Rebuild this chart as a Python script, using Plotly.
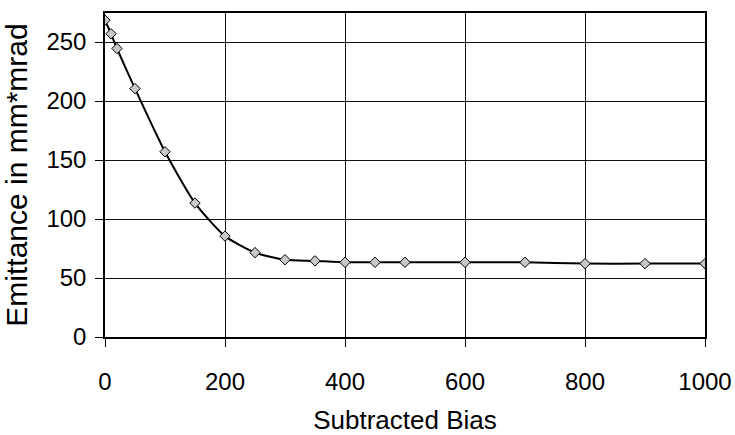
import plotly.graph_objects as go

bias = [0, 10, 20, 50, 100, 150, 200, 250, 300, 350, 400, 450, 500, 600, 700, 800, 900, 1000]
emittance = [268.5, 257, 244.5, 210.5, 157, 113.5, 85.5, 71.5, 65.5, 64.5, 63.3, 63.3, 63.3, 63.3, 63.3, 62.2, 62.2, 62.2]
x_ticks = [0, 200, 400, 600, 800, 1000]
y_ticks = [0, 50, 100, 150, 200, 250]

FONT = "Liberation Sans, Arial, sans-serif"

fig = go.Figure(go.Scatter(
    x=bias, y=emittance, mode="lines+markers",
    line=dict(color="black", width=2, shape="spline", smoothing=0.6),
    marker=dict(symbol="diamond", size=8, color="#c8c8c8", line=dict(color="black", width=1)),
    showlegend=False,
))

fig.update_layout(
    width=735, height=435,
    margin=dict(l=105, r=30, t=13, b=98, autoexpand=False),
    paper_bgcolor="white", plot_bgcolor="white",
    font=dict(family=FONT, color="black", size=24),
)
fig.update_xaxes(
    range=[0, 1000], tickvals=x_ticks, ticks="outside", ticklen=8, tickcolor="black",
    tickfont=dict(size=24), ticklabelstandoff=14,
    showgrid=True, gridcolor="#111", gridwidth=1,
    showline=True, linecolor="black", linewidth=1.5, mirror=True,
    zeroline=False, automargin=False,
    title=dict(text="Subtracted Bias", font=dict(size=26), standoff=29),
)
fig.update_yaxes(
    range=[0, 274.6], tickvals=y_ticks, ticks="outside", ticklen=8, tickcolor="black",
    tickfont=dict(size=24), ticklabelstandoff=4,
    showgrid=True, gridcolor="#111", gridwidth=1,
    showline=True, linecolor="black", linewidth=1.5, mirror=True,
    zeroline=False, automargin=False,
    title=dict(text="Emittance in mm*mrad", font=dict(size=30), standoff=10),
)

fig.write_html("out.html")
